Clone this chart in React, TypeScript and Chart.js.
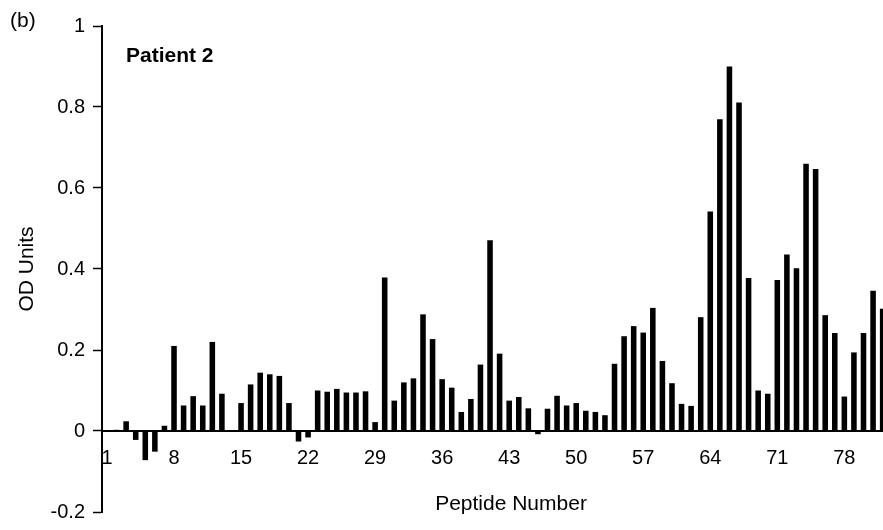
import React, { useEffect, useRef } from "react";
import { Chart, registerables } from "chart.js";

Chart.register(...registerables);

// ---- data ----
const peptideNumbers: number[] = Array.from({ length: 82 }, (_, i) => i + 1);
const odUnits: number[] = [
  0.0, 0.003, 0.024, -0.022, -0.072, -0.051, 0.013, 0.21, 0.063, 0.086,
  0.063, 0.22, 0.092, 0.0, 0.069, 0.115, 0.144, 0.14, 0.136, 0.069,
  -0.026, -0.016, 0.1, 0.097, 0.104, 0.095, 0.095, 0.098, 0.022, 0.379,
  0.075, 0.12, 0.13, 0.288, 0.227, 0.128, 0.107, 0.047, 0.079, 0.164,
  0.471, 0.191, 0.075, 0.084, 0.056, -0.008, 0.055, 0.087, 0.063, 0.069,
  0.05, 0.047, 0.039, 0.166, 0.234, 0.259, 0.243, 0.304, 0.173, 0.118,
  0.067, 0.062, 0.281, 0.542, 0.77, 0.9, 0.811, 0.378, 0.1, 0.092,
  0.373, 0.436, 0.402, 0.66, 0.647, 0.286, 0.242, 0.085, 0.194, 0.242,
  0.346, 0.302,
];
const xTickValues: number[] = [1, 8, 15, 22, 29, 36, 43, 50, 57, 64, 71, 78];
const yTickValues: number[] = [-0.2, 0, 0.2, 0.4, 0.6, 0.8, 1];
const panelLabel = "(b)";
const patientLabel = "Patient 2";
const xTitle = "Peptide Number";
const yTitle = "OD Units";

const FONT = "'Liberation Sans', Arial, Helvetica, sans-serif";

const annotationPlugin = {
  id: "panelText",
  afterDraw(chart: any) {
    const ctx = chart.ctx;
    ctx.save();
    ctx.fillStyle = "#000";
    ctx.textBaseline = "middle";
    ctx.textAlign = "left";
    ctx.font = `21px ${FONT}`;
    ctx.fillText(panelLabel, 2, 13);
    ctx.font = `bold 21px ${FONT}`;
    ctx.fillText(patientLabel, 118, 48);
    ctx.restore();
  },
};

export default function App() {
  const ref = useRef<HTMLCanvasElement | null>(null);

  useEffect(() => {
    if (!ref.current) return;
    Chart.defaults.font.family = FONT;
    Chart.defaults.color = "#000";
    const chart = new Chart(ref.current, {
      type: "bar",
      data: {
        datasets: [
          {
            label: "OD Units",
            data: peptideNumbers.map((p, i) => ({ x: p, y: odUnits[i] })),
            backgroundColor: "#000",
            borderWidth: 0,
            barPercentage: 0.58,
            categoryPercentage: 1,
          },
        ],
      },
      options: {
        responsive: false,
        animation: false,
        devicePixelRatio: 1,
        layout: { padding: { top: 11, bottom: 13, left: 0, right: 0 } },
        plugins: {
          legend: { display: false },
          tooltip: { enabled: false },
        },
        scales: {
          x: {
            type: "linear",
            position: { y: 0 } as any,
            min: 0.48,
            max: 85.9,
            offset: false,
            afterBuildTicks: (s: any) => {
              s.ticks = xTickValues.map((v) => ({ value: v }));
            },
            afterFit: (s: any) => {
              s.height = 0;
            },
            ticks: {
              autoSkip: false,
              maxRotation: 0,
              minRotation: 0,
              padding: 15,
              color: "#000",
              font: { size: 20 },
              callback: (v: any) => String(v),
            },
            grid: { display: true, drawOnChartArea: false, drawTicks: false },
            border: { display: true, color: "#000", width: 2 },
            title: {
              display: true,
              text: xTitle,
              color: "#000",
              font: { size: 21 },
              padding: { top: 0, bottom: -86 },
            },
          },
          y: {
            type: "linear",
            position: "left",
            min: -0.2,
            max: 1,
            afterBuildTicks: (s: any) => {
              s.ticks = yTickValues.map((v) => ({ value: v }));
            },
            afterFit: (s: any) => {
              s.width = 94;
            },
            ticks: {
              padding: 8,
              color: "#000",
              font: { size: 20, lineHeight: 1 },
              callback: (v: any) => String(+Number(v).toFixed(1)),
            },
            grid: {
              display: true,
              drawOnChartArea: false,
              drawTicks: true,
              tickLength: 9,
              tickWidth: 1.5,
              tickColor: "#000",
            },
            border: { display: true, color: "#000", width: 2 },
            title: {
              display: true,
              text: yTitle,
              color: "#000",
              font: { size: 21 },
              padding: { top: 7, bottom: 0 },
            },
          },
        },
      } as any,
      plugins: [annotationPlugin],
    });
    return () => chart.destroy();
  }, []);

  return (
    <div
      style={{
        position: "fixed",
        left: 8,
        top: 8,
        width: 875,
        height: 522,
        overflow: "hidden",
      }}
    >
      <canvas ref={ref} width={912} height={522} style={{ display: "block" }} />
    </div>
  );
}
